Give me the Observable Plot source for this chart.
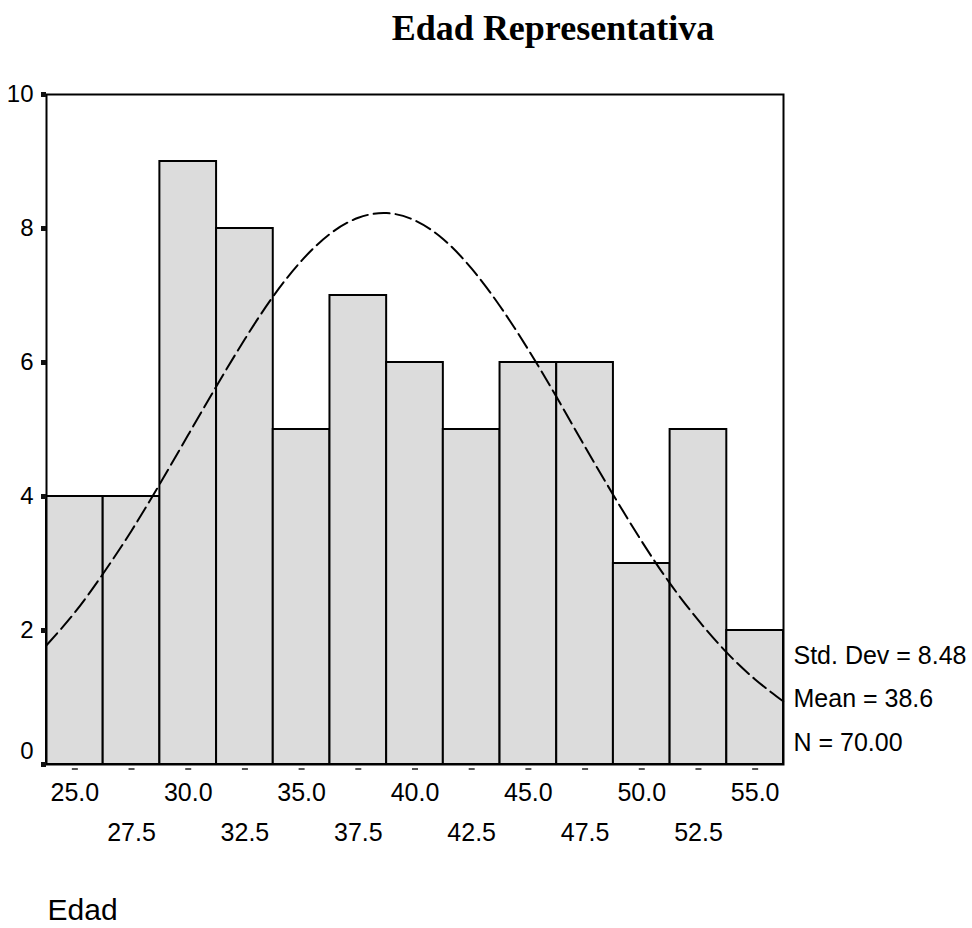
<!DOCTYPE html>
<html><head><meta charset="utf-8">
<script src="https://cdn.jsdelivr.net/npm/d3@7"></script>
<script src="https://cdn.jsdelivr.net/npm/@observablehq/plot@0.6"></script>
<style>
body{margin:0;background:#fff}
#title{position:relative;height:60px;width:972px}
#title div{position:absolute;left:553px;top:10px;transform:translateX(-50%);white-space:nowrap;font:bold 36px "Liberation Serif","Times New Roman",serif;line-height:36px;color:#000}
</style>
</head><body>
<div id="title"><div>Edad Representativa</div></div>
<div id="chart"></div>
<script>
const binCenters = [25, 27.5, 30, 32.5, 35, 37.5, 40, 42.5, 45, 47.5, 50, 52.5, 55];
const counts = [4, 4, 9, 8, 5, 7, 6, 5, 6, 6, 3, 5, 2];
const tickLabels = ["25.0", "27.5", "30.0", "32.5", "35.0", "37.5", "40.0", "42.5", "45.0", "47.5", "50.0", "52.5", "55.0"];
const binWidth = 2.5;
const yTicks = [0, 2, 4, 6, 8, 10];
// normal curve
const curveX = [23.75, 25, 26.25, 27.5, 28.75, 30, 31.25, 32.5, 33.75, 35, 36.25, 37.5, 38.75, 40, 41.25, 42.5, 43.75, 45, 46.25, 47.5, 48.75, 50, 51.25, 52.5, 53.75, 55, 56.25];
const curveY = [1.78, 2.27, 2.85, 3.49, 4.19, 4.92, 5.65, 6.35, 6.99, 7.52, 7.92, 8.16, 8.23, 8.12, 7.84, 7.40, 6.84, 6.19, 5.48, 4.74, 4.02, 3.33, 2.70, 2.15, 1.67, 1.27, 0.94];
const stats = ["Std. Dev = 8.48", "Mean = 38.6", "N = 70.00"];
const xLabel = "Edad";

const bars = binCenters.map((c, i) => ({x1: c - binWidth / 2, x2: c + binWidth / 2, count: counts[i]}));
const curve = curveX.map((x, i) => ({x, y: curveY[i]}));
const labels = binCenters.map((c, i) => ({x: c, text: tickLabels[i], row: i % 2}));

const chart = Plot.plot({
  width: 972,
  height: 868,
  marginTop: 34,
  marginLeft: 46,
  marginRight: 189,
  marginBottom: 164,
  style: {fontFamily: "'Liberation Sans', Arial, sans-serif", fontSize: "25px", background: "#fff", color: "#000"},
  x: {domain: [binCenters[0] - binWidth / 2, binCenters[binCenters.length - 1] + binWidth / 2]},
  y: {domain: [0, 10]},
  marks: [
    Plot.rectY(bars, {x1: "x1", x2: "x2", y: "count", fill: "#dcdcdc", stroke: "#000", strokeWidth: 2}),
    Plot.line(curve, {x: "x", y: "y", curve: "natural", stroke: "#000", strokeWidth: 2, strokeDasharray: "16,6"}),
    Plot.frame({stroke: "#000", strokeWidth: 2}),
    Plot.axisY({ticks: yTicks, tickSize: 5, strokeWidth: 5, stroke: "#111", tickFormat: () => "", label: null}),
    Plot.axisX({ticks: binCenters, tickSize: 2, strokeWidth: 6, stroke: "#555", tickFormat: () => "", label: null, dy: 4}),
    Plot.text(yTicks.filter(d => d > 0), {y: d => d, text: d => String(d), frameAnchor: "left", textAnchor: "end", lineAnchor: "middle", dx: -13, fontSize: 24}),
    Plot.text(yTicks.filter(d => d === 0), {y: d => d, text: d => String(d), frameAnchor: "left", textAnchor: "end", lineAnchor: "middle", dx: -13, dy: -13, fontSize: 24}),
    Plot.text(labels.filter(d => d.row === 0), {x: "x", text: "text", frameAnchor: "bottom", lineAnchor: "bottom", dy: 36, fontSize: 25}),
    Plot.text(labels.filter(d => d.row === 1), {x: "x", text: "text", frameAnchor: "bottom", lineAnchor: "bottom", dy: 76, fontSize: 25}),
    Plot.text([stats.join("\n")], {frameAnchor: "bottom-right", textAnchor: "start", lineAnchor: "bottom", dx: 10, dy: -14, fontSize: 25, lineHeight: 1.74}),
    Plot.text([xLabel], {frameAnchor: "bottom-left", textAnchor: "start", lineAnchor: "bottom", dx: 1, dy: 155, fontSize: 30})
  ]
});
document.getElementById("chart").appendChild(chart);
</script>
</body></html>
